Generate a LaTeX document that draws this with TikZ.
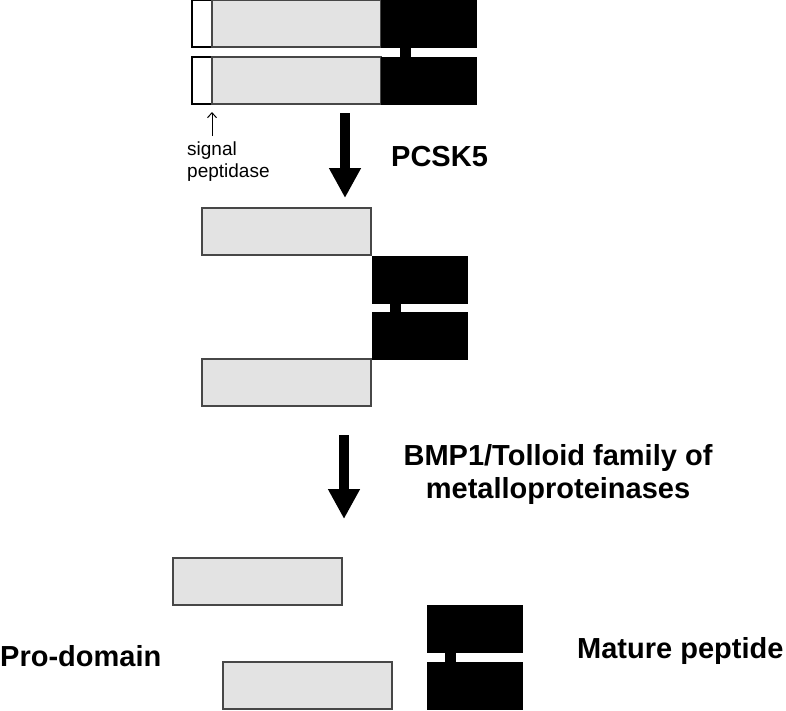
\documentclass[tikz,border=0pt]{standalone}
\usepackage{fontspec}
\setmainfont{Liberation Sans}
\usetikzlibrary{arrows.meta}

\tikzset{
  box/.style={inner sep=0pt, outer sep=0pt, anchor=north west, minimum height=47pt},
  pro/.style={box, draw=black!72, fill=black!11, line width=1.4pt, minimum width=169pt},
  sig/.style={box, draw=black, fill=white, line width=1.2pt, minimum width=20pt},
  mat/.style={box, draw=black, fill=black, line width=0.5pt, minimum width=95pt},
  bar/.style={box, fill=black, minimum width=11pt, minimum height=10pt},
  bigarrow/.style={line width=10.5pt, -{Triangle[width=30pt,length=30pt]}},
  lbl/.style={inner sep=0pt, anchor=base west, font=\bfseries\fontsize{29}{33}\selectfont}
}

\begin{document}
\begin{tikzpicture}[x=1pt, y=-1pt]
\useasboundingbox (0,0) rectangle (786,710);
% precursor dimer
\node[sig] (sig1) at (192,0) {};
\node[pro] (pro1) at (212,0) {};
\node[mat] (mat1) at (381,0) {};
\node[sig] (sig2) at (192,57) {};
\node[pro] (pro2) at (212,57) {};
\node[mat] (mat2) at (381,57) {};
\node[bar] (bar1) at (400,47.5) {};

% signal peptidase cleavage site
\coordinate (spa) at (212,136);
\coordinate (spb) at (212,112);
\draw[line width=1pt, -{Straight Barb[length=5pt,width=9pt]}] (spa) -- (spb);
\node[inner sep=0pt, anchor=base west, align=left, font=\fontsize{19}{22}\selectfont] (sigtxt) at (187,177) {signal\\peptidase};

% first processing step
\coordinate (a1s) at (345,113);
\coordinate (a1e) at (345,198);
\draw[bigarrow] (a1s) -- (a1e);
\node[lbl] (pcsk) at (391,166) {PCSK5};

% latent complex
\node[pro] (pro3) at (202,208) {};
\node[mat] (mat3) at (372,256) {};
\node[bar] (bar2) at (390,302.5) {};
\node[mat] (mat4) at (372,312) {};
\node[pro] (pro4) at (202,359) {};

% second processing step
\coordinate (a2s) at (344,435);
\coordinate (a2e) at (344,519);
\draw[bigarrow] (a2s) -- (a2e);
\node[lbl, anchor=center, align=center] (bmp) at (558,474) {BMP1/Tolloid family of\\metalloproteinases};

% released products
\node[pro] (pro5) at (173,558) {};
\node[pro] (pro6) at (223,662) {};
\node[mat] (mat5) at (427,605) {};
\node[bar] (bar3) at (445,651.5) {};
\node[mat] (mat6) at (427,662) {};
\node[lbl] (protxt) at (0,666) {Pro-domain};
\node[lbl] (mattxt) at (577,658) {Mature peptide};
\end{tikzpicture}
\end{document}
